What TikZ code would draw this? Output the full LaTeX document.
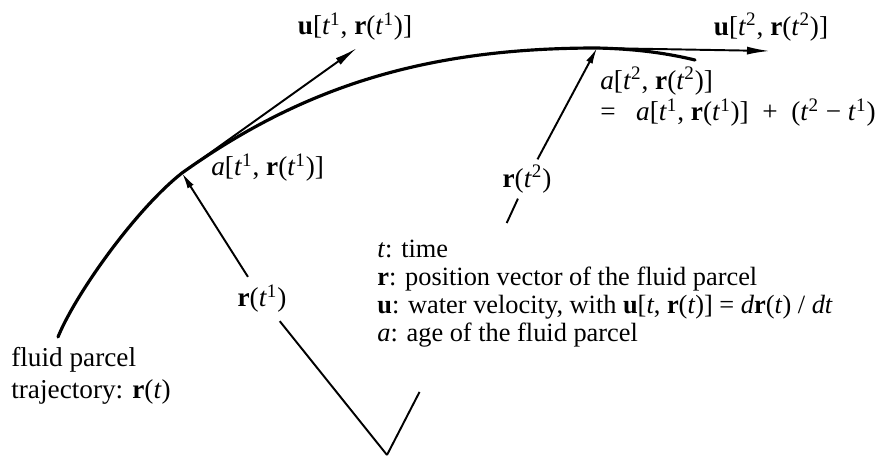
\documentclass[tikz,border=0pt]{standalone}
\usepackage{fontspec}
\setmainfont{Liberation Serif}
\usetikzlibrary{arrows.meta,calc}
\newcommand{\bu}{\textbf{u}}
\newcommand{\br}{\textbf{r}}
\newcommand{\ti}[1]{\textit{t}\textsuperscript{#1}}

\begin{document}
\begin{tikzpicture}[x=0.2mm,y=-0.2mm,
  lbl/.style={inner sep=0pt,font=\fontsize{15.5}{17}\selectfont},
  txt/.style={inner sep=0pt,align=left,font=\fontsize{15.5}{17}\selectfont},
  traj/.style={line width=1.8pt,line cap=round},
  vec/.style={line width=1.1pt,-{Latex[length=4.6mm,width=1.6mm]}},
  posvec/.style={line width=1.1pt,-{Latex[length=3.2mm,width=1.4mm]}}
]
\useasboundingbox (0,0) rectangle (893,457);
\coordinate (O) at (387,455);
\coordinate (P1) at (182,173);
\coordinate (P2) at (597,48);
\coordinate (end) at (695,60);
\coordinate (u1) at (357,48);
\coordinate (u2) at (770,51);
\coordinate (b1) at ($(O)!0.155!(P2)$);
\coordinate (b2) at ($(O)!0.57!(P2)$);

\draw[traj] (58,337) .. controls (75,295) and (135,210) .. (P1)
  .. controls (304,86) and (427,48) .. (P2)
  .. controls (640,49) and (670,54) .. (end);

\node[lbl] (u1lab) at (355,27) {\bu[\ti{1}, \br(\ti{1})]};
\node[lbl] (u2lab) at (771,27) {\bu[\ti{2}, \br(\ti{2})]};
\node[lbl,anchor=west] (a1lab) at (211,168) {\textit{a}[\ti{1}, \br(\ti{1})]};
\node[txt,anchor=north west,font=\fontsize{15.5}{18}\selectfont] (a2lab) at (600,67)
  {\textit{a}[\ti{2}, \br(\ti{2})]\\=\ \ \ \textit{a}[\ti{1}, \br(\ti{1})]\ \ +\ \ (\ti{2} − \ti{1})};
\node[lbl,inner sep=1.6mm] (r1lab) at (262,299) {\br(\ti{1})};
\node[lbl,inner sep=1.1mm] (r2lab) at (527,179) {\br(\ti{2})};
\node[txt,anchor=north west,font=\fontsize{15.5}{18}\selectfont] (fluid) at (11,347)
  {fluid parcel\\trajectory: \br(\textit{t})};
\node[txt,anchor=north west,font=\fontsize{15}{15.8}\selectfont] (legend) at (377,240)
  {\textit{t}: time\\
   \br: position vector of the fluid parcel\\
   \bu: water velocity, with \bu[\textit{t}, \br(\textit{t})] = \textit{d}\br(\textit{t}) / \textit{dt}\\
   \textit{a}: age of the fluid parcel};

\draw[vec] (P1) -- (u1);
\draw[vec] (P2) -- (u2);
\draw[line width=1.1pt] (O) -- (r1lab);
\draw[posvec] (r1lab) -- (P1);
\draw[line width=1.1pt] (O) -- (b1);
\draw[line width=1.1pt] (b2) -- (r2lab);
\draw[posvec] (r2lab) -- (P2);
\end{tikzpicture}
\end{document}
